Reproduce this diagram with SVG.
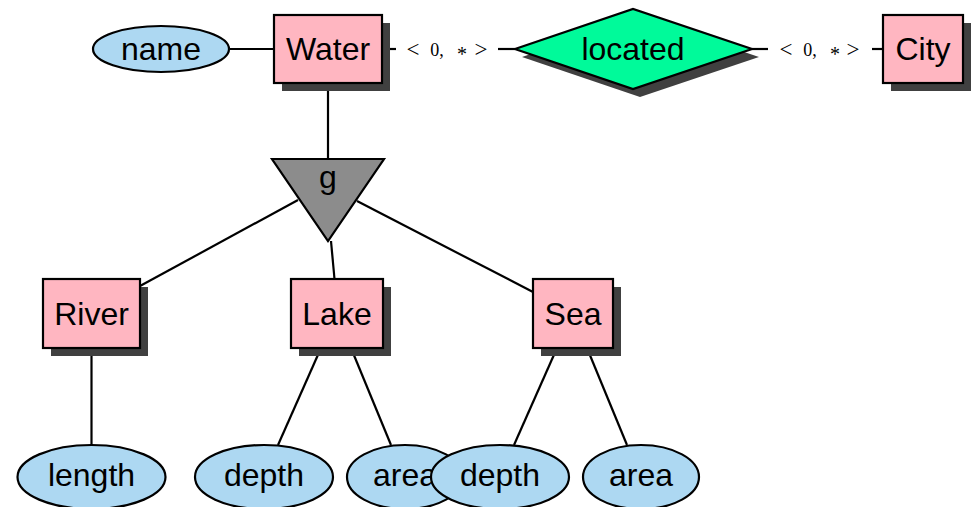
<svg xmlns="http://www.w3.org/2000/svg" width="973" height="507" viewBox="0 0 973 507">
<style>
.ent{fill:#FFB6C1;stroke:#000;stroke-width:2.2}
.attr{fill:#ADD8F2;stroke:#000;stroke-width:2.2}
.rel{fill:#00FA9A;stroke:#000;stroke-width:2.2}
.gen{fill:#8C8C8C;stroke:#000;stroke-width:2.2}
.sh{fill:#404040}
.lbl{font-family:"Liberation Sans",Arial,sans-serif;font-size:32px;fill:#000;text-anchor:middle}
.card{font-family:"Liberation Serif","Times New Roman",serif;font-size:18px;fill:#000;text-anchor:middle}
.big{font-size:23px}
.ast{font-size:20px}
.ln{stroke:#000;stroke-width:2.2;fill:none}
</style>
<rect width="973" height="507" fill="#fff"/>
<g id="connectors">
<line class="ln" x1="229" y1="49" x2="274" y2="49"/>
<line class="ln" x1="382" y1="49" x2="396" y2="49"/>
<line class="ln" x1="498" y1="49" x2="515" y2="49"/>
<line class="ln" x1="752" y1="49" x2="768" y2="49"/>
<line class="ln" x1="872" y1="49" x2="884" y2="49"/>
<line class="ln" x1="328" y1="83" x2="328" y2="159"/>
<line class="ln" x1="298" y1="200" x2="140" y2="286"/>
<line class="ln" x1="357" y1="201" x2="533" y2="292"/>
<line class="ln" x1="331" y1="241" x2="334.5" y2="279"/>
<line class="ln" x1="91.5" y1="348" x2="91.5" y2="445"/>
<line class="ln" x1="321" y1="348" x2="278" y2="445"/>
<line class="ln" x1="351" y1="348" x2="391" y2="445"/>
<line class="ln" x1="557" y1="348" x2="514" y2="445"/>
<line class="ln" x1="587" y1="348" x2="627" y2="445"/>
<text class="card"><tspan class="big" x="413" y="57">&lt;</tspan><tspan x="437" y="56">0,</tspan><tspan class="ast" x="462" y="61">*</tspan><tspan class="big" x="481" y="57">&gt;</tspan></text>
<text class="card"><tspan class="big" x="786" y="57">&lt;</tspan><tspan x="810" y="56">0,</tspan><tspan class="ast" x="835" y="61">*</tspan><tspan class="big" x="853" y="57">&gt;</tspan></text>
</g>
<g id="name">
<ellipse class="attr" cx="161" cy="49" rx="68" ry="23"/>
<text class="lbl" x="161" y="60">name</text>
</g>
<g id="Water">
<rect class="sh" x="282" y="23" width="108" height="68"/>
<rect class="ent" x="274" y="15" width="108" height="68"/>
<text class="lbl" x="328" y="60">Water</text>
</g>
<g id="located">
<polygon class="sh" points="522,57 640,17 759,57 640,97"/>
<polygon class="rel" points="515,49 633,9 752,49 633,89"/>
<text class="lbl" x="633" y="60">located</text>
</g>
<g id="City">
<rect class="sh" x="891" y="23" width="80" height="68"/>
<rect class="ent" x="883" y="15" width="80" height="68"/>
<text class="lbl" x="923" y="60">City</text>
</g>
<g id="g">
<polygon class="gen" points="272,159 384,159 328,241"/>
<text class="lbl" x="328" y="188">g</text>
</g>
<g id="River">
<rect class="sh" x="51" y="287" width="97" height="69"/>
<rect class="ent" x="43" y="279" width="97" height="69"/>
<text class="lbl" x="91.5" y="325">River</text>
</g>
<g id="Lake">
<rect class="sh" x="299" y="287" width="92" height="69"/>
<rect class="ent" x="291" y="279" width="92" height="69"/>
<text class="lbl" x="337" y="325">Lake</text>
</g>
<g id="Sea">
<rect class="sh" x="541" y="287" width="80" height="69"/>
<rect class="ent" x="533" y="279" width="80" height="69"/>
<text class="lbl" x="573" y="325">Sea</text>
</g>
<g id="length">
<ellipse class="attr" cx="91.5" cy="477" rx="74" ry="32"/>
<text class="lbl" x="91.5" y="486">length</text>
</g>
<g id="lake-depth">
<ellipse class="attr" cx="264" cy="477" rx="69" ry="32"/>
<text class="lbl" x="264" y="486">depth</text>
</g>
<g id="lake-area">
<ellipse class="attr" cx="405" cy="477" rx="58" ry="32"/>
<text class="lbl" x="405" y="486">area</text>
</g>
<g id="sea-depth">
<ellipse class="attr" cx="500" cy="477" rx="69" ry="32"/>
<text class="lbl" x="500" y="486">depth</text>
</g>
<g id="sea-area">
<ellipse class="attr" cx="641" cy="477" rx="58" ry="32"/>
<text class="lbl" x="641" y="486">area</text>
</g>
</svg>
